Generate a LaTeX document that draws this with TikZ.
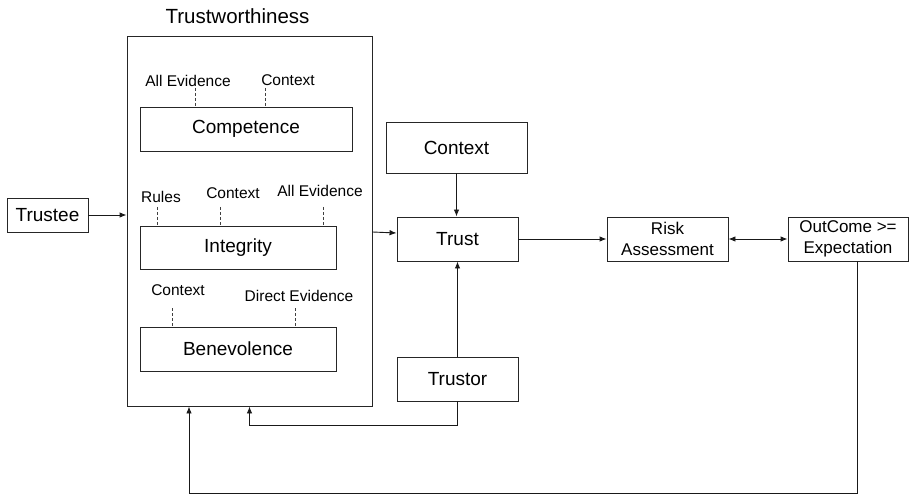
\documentclass[tikz,border=0pt]{standalone}
\usepackage{fontspec}
\setmainfont{Liberation Sans}
\usetikzlibrary{arrows.meta}
\begin{document}
\begin{tikzpicture}[x=1pt,y=-1pt,
  box/.style={draw=black!85, line width=0.9pt, inner sep=0pt, font=\fontsize{19}{22}\selectfont},
  sbox/.style={box, font=\fontsize{17}{20.5}\selectfont, align=center},
  lbl/.style={inner sep=0pt, font=\fontsize{15.5}{18}\selectfont},
  arr/.style={draw=black!90, line width=0.9pt, -{Latex[length=7pt,width=5.5pt]}},
  darr/.style={arr, {Latex[length=7pt,width=5.5pt]}-{Latex[length=7pt,width=5.5pt]}},
  tick/.style={draw=black!75, line width=0.8pt, dash pattern=on 3pt off 2pt}]
\useasboundingbox (0,0) rectangle (910,497);

% trustworthiness container and its three facets
\node[inner sep=0pt, font=\fontsize{20.5}{24}\selectfont] (title) at (237.5,16) {Trustworthiness};
\node[box, minimum width=245, minimum height=370] (tw) at (249.5,221) {};
\node[box, minimum width=212, minimum height=44] (comp) at (246,129) {Competence};
\node[box, minimum width=196, minimum height=43] (integ) at (238,247.5) {Integrity};
\node[box, minimum width=196, minimum height=44] (benev) at (238,349) {Benevolence};

% facet inputs
\node[lbl] (c1) at (188,81) {All Evidence};
\node[lbl] (c2) at (288,80) {Context};
\node[lbl] (i1) at (161,197) {Rules};
\node[lbl] (i2) at (233,193) {Context};
\node[lbl] (i3) at (320,191) {All Evidence};
\node[lbl] (b1) at (178,290) {Context};
\node[lbl] (b2) at (299,296) {Direct Evidence};

\coordinate (tc1) at (195,88);
\coordinate (tc2) at (265,88);
\coordinate (ti1) at (157,207);
\coordinate (ti2) at (220,207);
\coordinate (ti3) at (323,207);
\coordinate (tb1) at (172,308);
\coordinate (tb2) at (295,308);
\draw[tick] (tc1) -- (tc1 |- comp.north);
\draw[tick] (tc2) -- (tc2 |- comp.north);
\draw[tick] (ti1) -- (ti1 |- integ.north);
\draw[tick] (ti2) -- (ti2 |- integ.north);
\draw[tick] (ti3) -- (ti3 |- integ.north);
\draw[tick] (tb1) -- (tb1 |- benev.north);
\draw[tick] (tb2) -- (tb2 |- benev.north);

% outer blocks
\node[box, minimum width=81, minimum height=34] (trustee) at (47.5,215) {Trustee};
\node[box, minimum width=141, minimum height=51] (ctx) at (456.5,147.5) {Context};
\node[box, minimum width=121, minimum height=44] (trust) at (457.5,239) {Trust};
\node[box, minimum width=121, minimum height=44] (trustor) at (457.5,379) {Trustor};
\node[sbox, minimum width=121, minimum height=44] (risk) at (667.5,239) {Risk\\Assessment};
\node[sbox, minimum width=120, minimum height=44] (out) at (848,239) {OutCome \textgreater=\\Expectation};

% feedback entry points on the container
\coordinate (fb1) at (tw.south);
\coordinate (fb2) at ([xshift=-60.5pt]tw.south);

% connectors
\draw[arr] (trustee.east) -- (trustee.east -| tw.west);
\draw[arr] ([yshift=-11pt]tw.east) -- ([yshift=6pt]trust.west);
\draw[arr] (ctx.south) -- (ctx.south |- trust.north);
\draw[arr] (trustor.north) -- (trust.south);
\draw[arr] (trust.east) -- (risk.west);
\draw[darr] (risk.east) -- (out.west);
\draw[arr] (trustor.south) -- ++(0,24) -| (fb1);
\draw[arr] ([xshift=9pt]out.south) -- ++(0,232) -| (fb2);
\end{tikzpicture}
\end{document}
